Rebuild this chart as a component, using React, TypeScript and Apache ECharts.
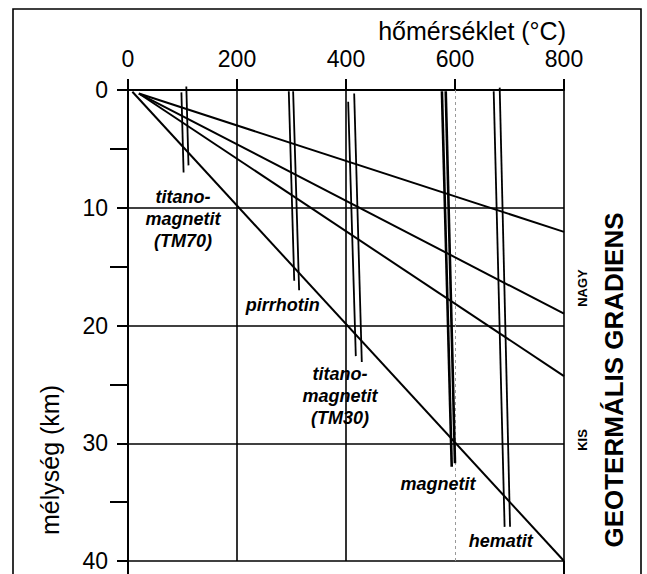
import { useEffect, useRef } from "react";
import * as echarts from "echarts";

// axis ranges / ticks
const tempRange = [0, 800];
const depthRange = [0, 40];

// geotherms: [temperature °C, depth km]
const geothermSteep1 = [[20, 0.3], [800, 12.05]];
const geothermSteep2 = [[20, 0.3], [800, 19.0]];
const geothermSteep3 = [[20, 0.3], [800, 24.3]];
const geothermLow = [[8, 0.15], [800, 40]];

// Curie-temperature line pairs
const tm70A = [[98, 0.2], [102, 7.0]];
const tm70B = [[107, -0.3], [111, 6.4]];
const pyrrhotinA = [[295, 0.1], [305, 16.2]];
const pyrrhotinB = [[303, 0.1], [314, 17.0]];
const tm30A = [[404, 1.0], [418, 22.6]];
const tm30B = [[415, 0.3], [429, 23.1]];
const magnetiteA = [[576, 0.1], [594, 32.0]];
const magnetiteB = [[583, 0.1], [600, 31.7]];
const hematiteA = [[671, 0.1], [691, 37.1]];
const hematiteB = [[682, -0.2], [701, 37.1]];

// label anchors [temperature, depth] and texts
const labelTexts = ["titano-\nmagnetit\n(TM70)", "pirrhotin", "titano-\nmagnetit\n(TM30)", "magnetit", "hematit"];
const labelAnchors = [[101, 10.95], [284, 18.3], [389, 26.0], [569, 33.5], [684, 38.3]];

// vertical grid lines (°C)
const solidVerticals = [200, 400, 800];
const dashedVerticals = [600];

export default function App() {
  const ref = useRef<HTMLDivElement>(null);
  useEffect(() => {
    const chart = echarts.init(ref.current!, null, { renderer: "svg" });
    const font = '"Liberation Sans", Arial, Helvetica, sans-serif';
    const ln = (data: number[][], width: number) => ({
      type: "line",
      data,
      symbol: "none",
      silent: true,
      clip: false,
      z: 5,
      lineStyle: { color: "#000", width },
    });
    chart.setOption({
      animation: false,
      backgroundColor: "#fff",
      grid: { left: 128, right: 83, top: 90, bottom: 13 },
      xAxis: {
        type: "value",
        position: "top",
        min: tempRange[0],
        max: tempRange[1],
        interval: 200,
        axisLine: { show: true, onZero: false, lineStyle: { color: "#000", width: 2 } },
        axisTick: { show: true, length: 11, lineStyle: { color: "#000", width: 2 } },
        axisLabel: { fontSize: 23, color: "#000", margin: 20, fontFamily: font },
        splitLine: { show: false },
      },
      yAxis: {
        type: "value",
        inverse: true,
        min: depthRange[0],
        max: depthRange[1],
        interval: 10,
        axisLine: { show: true, onZero: false, lineStyle: { color: "#000", width: 2 } },
        axisTick: { show: true, length: 11, lineStyle: { color: "#000", width: 2 } },
        minorTick: { show: true, splitNumber: 2, length: 18, lineStyle: { color: "#000", width: 2 } },
        axisLabel: { fontSize: 23, color: "#000", margin: 20, fontFamily: font },
        splitLine: { show: true, lineStyle: { color: "#000", width: 1.6 } },
      },
      series: [
        {
          type: "line",
          data: [],
          silent: true,
          markLine: {
            silent: true,
            symbol: "none",
            label: { show: false },
            data: [
              ...solidVerticals.map((v) => ({ xAxis: v, lineStyle: { color: "#000", width: 1.6, type: "solid" } })),
              ...dashedVerticals.map((v) => ({ xAxis: v, lineStyle: { color: "#999", width: 1, type: [3, 3] } })),
            ],
          },
        },
        ln([[tempRange[0], depthRange[1]], [tempRange[0], depthRange[1] + 1.5]], 2),
        ln([[tempRange[1], depthRange[1]], [tempRange[1], depthRange[1] + 1.5]], 2),
        ln(geothermSteep1, 2),
        ln(geothermSteep2, 2),
        ln(geothermSteep3, 2),
        ln(geothermLow, 2),
        ln(tm70A, 1.8),
        ln(tm70B, 1.8),
        ln(pyrrhotinA, 1.8),
        ln(pyrrhotinB, 1.8),
        ln(tm30A, 1.8),
        ln(tm30B, 1.8),
        ln(magnetiteA, 2.6),
        ln(magnetiteB, 2.6),
        ln(hematiteA, 1.8),
        ln(hematiteB, 1.8),
        {
          type: "scatter",
          symbolSize: 0,
          silent: true,
          z: 6,
          data: labelAnchors.map((p, i) => ({ value: p, name: labelTexts[i] })),
          label: {
            show: true,
            position: "inside",
            formatter: (p: any) => p.name,
            fontFamily: font,
            fontSize: 18,
            fontWeight: "bold",
            fontStyle: "italic",
            color: "#000",
            opacity: 1,
            lineHeight: 22,
            align: "center",
            verticalAlign: "middle",
          },
        },
      ],
      graphic: [
        {
          type: "rect",
          shape: { x: 13, y: 9, width: 628, height: 600 },
          style: { fill: "none", stroke: "#000", lineWidth: 1.6 },
          silent: true,
        },
        {
          type: "text",
          x: 566,
          y: 31,
          style: { text: "hőmérséklet (°C)", font: `25px ${font}`, fill: "#000", align: "right", verticalAlign: "middle" },
        },
        {
          type: "text",
          x: 50,
          y: 460,
          rotation: Math.PI / 2,
          style: { text: "mélység (km)", font: `25px ${font}`, fill: "#000", align: "center", verticalAlign: "middle" },
        },
        {
          type: "text",
          x: 614,
          y: 380,
          rotation: Math.PI / 2,
          style: { text: "GEOTERMÁLIS GRADIENS", font: `bold 26px ${font}`, fill: "#000", align: "center", verticalAlign: "middle" },
        },
        {
          type: "text",
          x: 582,
          y: 288,
          rotation: Math.PI / 2,
          style: { text: "NAGY", font: `bold 13px ${font}`, fill: "#000", align: "center", verticalAlign: "middle" },
        },
        {
          type: "text",
          x: 582,
          y: 440,
          rotation: Math.PI / 2,
          style: { text: "KIS", font: `bold 13px ${font}`, fill: "#000", align: "center", verticalAlign: "middle" },
        },
      ],
    });
    return () => chart.dispose();
  }, []);
  return <div ref={ref} style={{ position: "fixed", left: 0, top: 0, width: 647, height: 574 }} />;
}
